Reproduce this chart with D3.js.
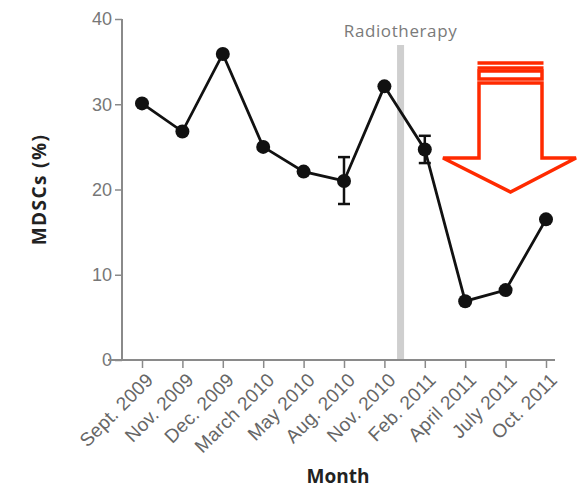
<!DOCTYPE html>
<html>
<head>
<meta charset="utf-8">
<script src="https://cdn.jsdelivr.net/npm/d3@7"></script>
<style>
  body { margin: 0; background: #fff; }
  svg { display: block; font-family: "Open Sans", sans-serif; }
</style>
</head>
<body>
<div id="chart"></div>
<script>
'use strict';

let width = 577;
let height = 488;

// data
const months = ["Sept. 2009", "Nov. 2009", "Dec. 2009", "March 2010", "May 2010", "Aug. 2010",
    "Nov. 2010", "Feb. 2011", "April 2011", "July 2011", "Oct. 2011"];
const mdsc = [30.1, 26.8, 35.9, 25.0, 22.1, 21.0, 32.1, 24.7, 6.9, 8.2, 16.5];
// error bars only where visible: [index, low, high]
const errors = [[5, 18.3, 23.8], [7, 23.1, 26.3]];
const yTicks = [0, 10, 20, 30, 40];
const radiotherapyAt = 6.4; // between Nov. 2010 and Feb. 2011

const x = d3.scaleLinear().domain([0, months.length - 1]).range([142, 546]);
const y = d3.scaleLinear().domain([0, 40]).range([360, 19]);

const svg = d3.select("#chart")
    .append("svg")
    .attr("width", width)
    .attr("height", height);

// radiotherapy band
svg.append("rect")
    .attr("x", x(radiotherapyAt) - 3.5)
    .attr("y", 45)
    .attr("width", 7)
    .attr("height", y(0) - 45)
    .attr("fill", "#cfcfcf");

svg.append("text")
    .attr("x", x(radiotherapyAt))
    .attr("y", 37)
    .attr("text-anchor", "middle")
    .attr("font-size", 17)
    .attr("letter-spacing", 0.6)
    .attr("fill", "#7a7a7a")
    .text("Radiotherapy");

// y axis
const yAxis = svg.append("g")
    .attr("transform", "translate(122,0)")
    .call(d3.axisLeft(y).tickValues(yTicks).tickSize(7).tickPadding(3));
yAxis.select(".domain").attr("stroke", "#8a8a8a").attr("stroke-width", 2)
    .attr("d", `M0,${y(40)}V${y(0)}`);
yAxis.selectAll(".tick line").attr("stroke", "#8a8a8a").attr("stroke-width", 1.5);
yAxis.selectAll(".tick text").attr("fill", "#777").attr("font-size", 18);

// x axis
const xAxis = svg.append("g")
    .attr("transform", `translate(0,${y(0)})`)
    .call(d3.axisBottom(x).tickValues(d3.range(months.length))
        .tickFormat(i => months[i]).tickSize(8).tickPadding(4));
xAxis.select(".domain").attr("stroke", "#8a8a8a").attr("stroke-width", 2)
    .attr("d", "M108,0H555");
xAxis.selectAll(".tick line").attr("stroke", "#8a8a8a").attr("stroke-width", 1.5);
xAxis.selectAll(".tick text")
    .attr("fill", "#666")
    .attr("font-size", 19)
    .attr("letter-spacing", 0.3)
    .attr("text-anchor", "end")
    .attr("dy", null)
    .attr("x", 0)
    .attr("y", 0)
    .attr("transform", "translate(12,21) rotate(-45)");

// axis titles
svg.append("text")
    .attr("transform", `translate(46,${(y(0) + y(40)) / 2}) rotate(-90)`)
    .attr("text-anchor", "middle")
    .attr("font-size", 19)
    .attr("font-weight", "bold")
    .attr("letter-spacing", 1.4)
    .attr("fill", "#222")
    .text("MDSCs (%)");

svg.append("text")
    .attr("x", 338)
    .attr("y", 483)
    .attr("text-anchor", "middle")
    .attr("font-size", 19)
    .attr("font-weight", "bold")
    .attr("fill", "#222")
    .text("Month");

// error bars
const eb = svg.append("g").attr("stroke", "#111").attr("stroke-width", 2.5);
errors.forEach(([i, lo, hi]) => {
    eb.append("line").attr("x1", x(i)).attr("x2", x(i)).attr("y1", y(lo)).attr("y2", y(hi));
    eb.append("line").attr("x1", x(i) - 6).attr("x2", x(i) + 6).attr("y1", y(lo)).attr("y2", y(lo));
    eb.append("line").attr("x1", x(i) - 6).attr("x2", x(i) + 6).attr("y1", y(hi)).attr("y2", y(hi));
});

// line + points
const line = d3.line().x((d, i) => x(i)).y(d => y(d));
svg.append("path")
    .datum(mdsc)
    .attr("d", line)
    .attr("fill", "none")
    .attr("stroke", "#111")
    .attr("stroke-width", 2.8);

svg.selectAll(".pt")
    .data(mdsc)
    .join("circle")
    .attr("class", "pt")
    .attr("cx", (d, i) => x(i))
    .attr("cy", d => y(d))
    .attr("r", 7)
    .attr("fill", "#111");

// red arrow annotation
const red = "#ff2a00";
const ax0 = 479, ax1 = 542;
const arrow = svg.append("g").attr("fill", "none").attr("stroke", red).attr("stroke-width", 3.5);
arrow.append("path")
    .attr("d", `M${ax0},83V158H443L${(ax0 + ax1) / 2},192L576,158H${ax1}V83Z`);
[63, 68].forEach(yy => {
    arrow.append("line").attr("x1", ax0 - 1.5).attr("x2", ax1 + 1.5).attr("y1", yy).attr("y2", yy);
});
arrow.append("rect").attr("x", ax0).attr("y", 71).attr("width", ax1 - ax0).attr("height", 8);
</script>
</body>
</html>
